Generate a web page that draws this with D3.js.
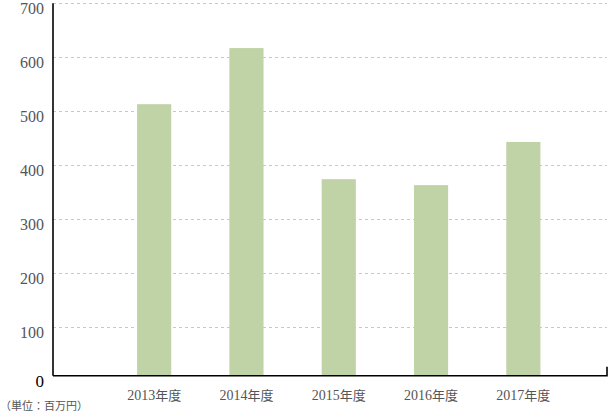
<!DOCTYPE html>
<html><head><meta charset="utf-8">
<script src="https://cdn.jsdelivr.net/npm/d3@7"></script>
<style>body{margin:0;background:#fff}svg{display:block}
.sf{font-family:"Liberation Serif","Times New Roman","DejaVu Serif",serif}
.cj{font-family:"Noto Sans CJK JP",sans-serif}
</style>
</head><body>
<script>
const categories = ["2013年度","2014年度","2015年度","2016年度","2017年度"];
const values = [513, 617, 374, 363, 443];
const yTicks = [100,200,300,400,500,600,700];
const unitLabel = "（単位：百万円）";

const W = 611, H = 416;
const svg = d3.select("body").append("svg").attr("width", W).attr("height", H);
const left = 53, right = 607;
const y = d3.scaleLinear().domain([0,700]).range([381, 3.3]);
const axisY = y(0) - 5.3;
const x = d3.scaleBand().domain(categories).range([108, 569.5]).paddingInner(0.63).paddingOuter(0.315);

svg.append("g").selectAll("line").data(yTicks).join("line")
  .attr("x1", left).attr("x2", right)
  .attr("y1", d => Math.round(y(d)) + 0.5).attr("y2", d => Math.round(y(d)) + 0.5)
  .attr("stroke", "#c8c8c8").attr("stroke-dasharray", "3,3").attr("stroke-width", 1);

svg.append("g").selectAll("rect").data(values).join("rect")
  .attr("x", (d,i) => x(categories[i])).attr("width", x.bandwidth())
  .attr("y", d => y(d)).attr("height", d => axisY - y(d))
  .attr("fill", "#c0d3a6");

svg.append("line").attr("x1", left).attr("x2", left).attr("y1", y(700)).attr("y2", axisY)
  .attr("stroke", "#000").attr("stroke-width", 1.6);
svg.append("path").attr("d", `M${left},${axisY}H${right}V${axisY-9}`)
  .attr("fill", "none").attr("stroke", "#000").attr("stroke-width", 1.6);

svg.append("g").selectAll("text").data(yTicks).join("text").attr("class", "sf")
  .attr("x", 44).attr("y", d => y(d) + 5.5).attr("dy", "0.35em").attr("text-anchor", "end")
  .attr("font-size", 16).attr("fill", "#555").text(d => d);
svg.append("text").attr("class", "sf").attr("x", 44).attr("y", y(0)).attr("dy", "0.35em").attr("text-anchor", "end")
  .attr("font-size", 17).attr("fill", "#000").text("0");

const xl = svg.append("g").selectAll("text").data(categories).join("text")
  .attr("x", d => x(d) + x.bandwidth()/2).attr("y", 400).attr("text-anchor", "middle")
  .attr("font-size", 14).attr("fill", "#555");
xl.append("tspan").attr("class", "sf").text(d => d.replace(/[^0-9]/g, ""));
xl.append("tspan").attr("class", "cj").attr("font-size", 13).text(d => d.replace(/[0-9]/g, ""));

svg.append("text").attr("class", "cj").attr("x", 0).attr("y", 410)
  .attr("font-size", 11).attr("fill", "#555").text(unitLabel);
</script>
</body></html>
